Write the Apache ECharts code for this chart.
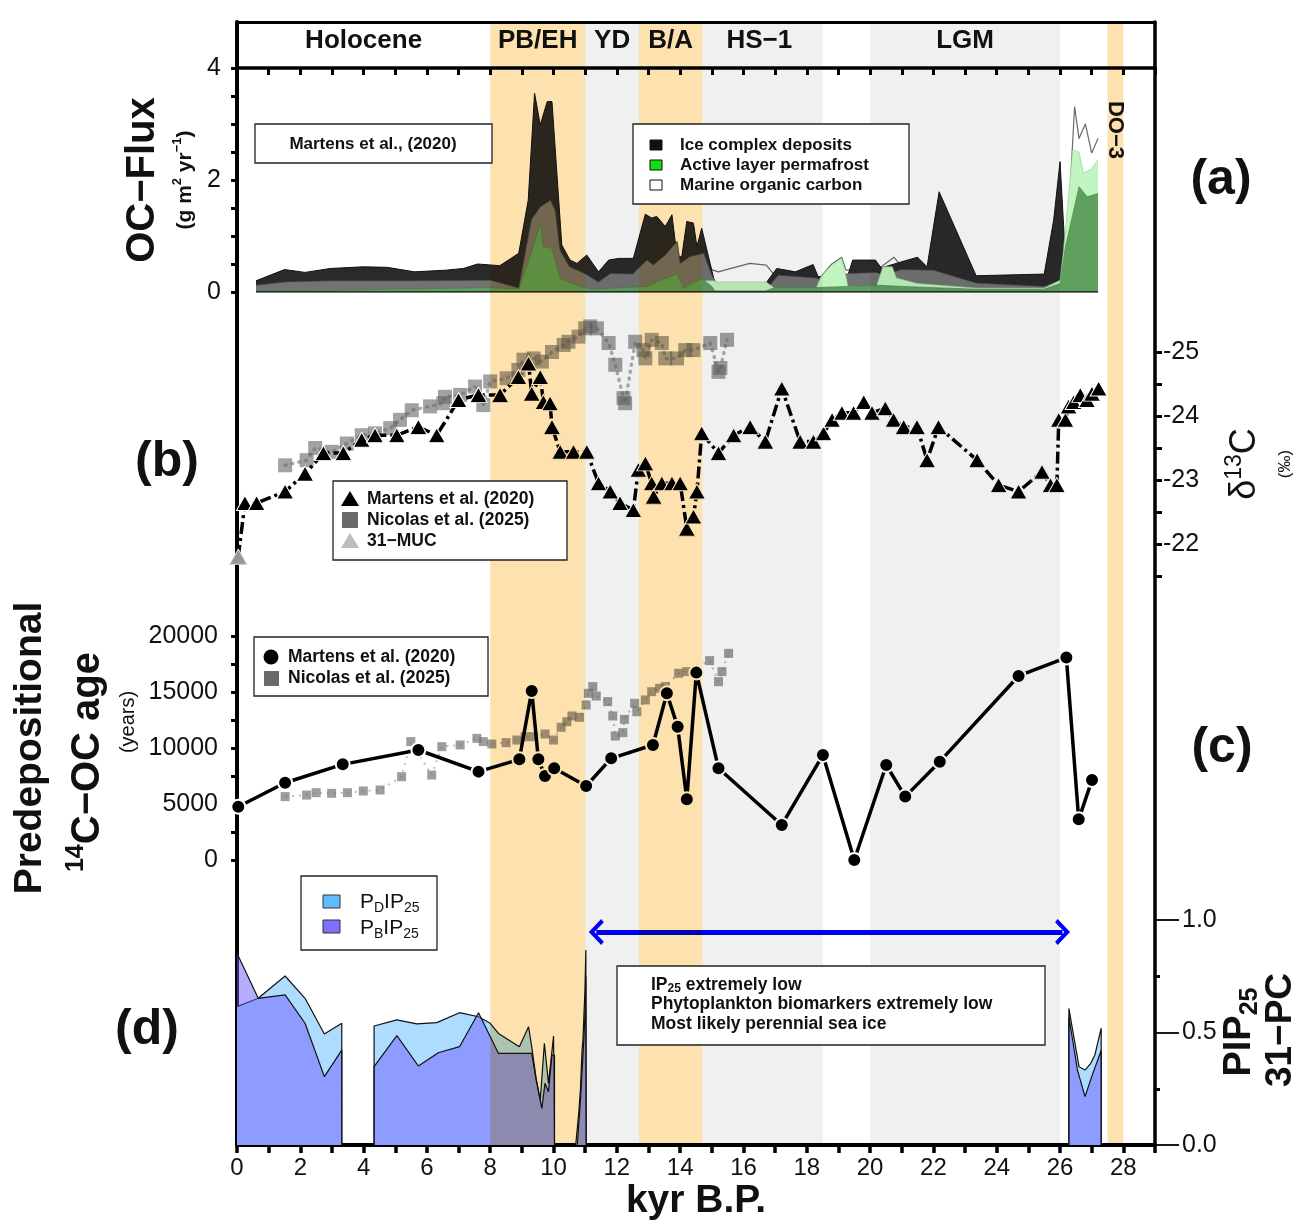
<!DOCTYPE html>
<html><head><meta charset="utf-8">
<script src="https://cdn.jsdelivr.net/npm/echarts@6/dist/echarts.min.js"></script>
<style>html,body{margin:0;padding:0;background:#fff}#c{width:1298px;height:1221px}</style>
</head><body><div id="c"></div>
<script>
// ---------- DATA ----------
const periods = [[8,11,'warm'],[11,12.7,'cold'],[12.7,14.7,'warm'],[14.7,18.5,'cold'],[20,26,'cold'],[27.5,28,'warm']];
const periodNames = ['Holocene','PB/EH','YD','B/A','HS−1','LGM'];
const periodCentres = [4.0,9.5,11.85,13.7,16.5,23.0];
const do3 = ['DO−3', 27.75];

// (a) OC flux, g m-2 yr-1
const icdFlux = [[0.6,0.2],[1.5,0.4],[2.15,0.35],[2.95,0.42],[4.0,0.45],[4.75,0.44],[5.6,0.36],[6.6,0.39],[7.15,0.42],[7.6,0.5],[8.3,0.47],[8.9,0.69],[9.2,1.64],[9.4,3.55],[9.58,2.98],[9.8,3.4],[9.95,3.4],[10.26,0.84],[10.52,0.57],[10.74,0.51],[11.05,0.66],[11.42,0.36],[11.74,0.57],[12.05,0.6],[12.52,0.6],[12.9,1.39],[13.1,1.32],[13.26,1.35],[13.53,1.17],[13.74,1.38],[13.9,0.63],[14.05,0.63],[14.21,1.26],[14.42,1.23],[14.53,0.81],[14.68,1.14],[14.95,0.5],[15.1,0.15],[16.7,0.15],[17.05,0.42],[17.64,0.36],[18.2,0.49],[18.36,0.27],[19.3,0.3],[19.45,0.57],[20.17,0.57],[20.35,0.43],[21.0,0.54],[21.5,0.62],[21.8,0.45],[22.18,1.79],[23.35,0.29],[25.5,0.32],[25.8,1.29],[26.0,2.33],[26.2,0.3],[27.2,0.1]];
const marineFlux = [[0.6,0.12],[1.5,0.18],[2.95,0.2],[5.5,0.2],[8.0,0.21],[8.9,0.07],[9.3,1.29],[9.58,1.52],[9.9,1.64],[10.05,1.46],[10.2,0.75],[10.5,0.45],[10.95,0.34],[11.42,0.18],[11.8,0.33],[12.5,0.32],[12.95,0.57],[13.15,0.48],[13.53,0.66],[13.9,0.9],[14.0,0.51],[14.3,0.63],[14.74,0.69],[15.0,0.4],[15.2,0.36],[16.2,0.51],[16.72,0.48],[17.03,0.27],[18.44,0.27],[18.79,0.5],[19.1,0.62],[19.24,0.39],[20.2,0.39],[20.76,0.62],[21.0,0.45],[22.0,0.39],[23.35,0.16],[25.5,0.1],[26.0,0.45],[26.27,1.34],[26.46,3.31],[26.6,2.74],[26.8,3.0],[27.0,2.48],[27.2,2.74]];
const mixedFlux = [[0.6,0.12],[1.5,0.18],[2.95,0.2],[5.5,0.2],[8.0,0.21],[8.9,0.07],[9.3,1.29],[9.58,1.52],[9.9,1.64],[10.05,1.46],[10.2,0.75],[10.5,0.45],[10.95,0.34],[11.42,0.18],[11.8,0.33],[12.5,0.32],[12.95,0.57],[13.15,0.48],[13.53,0.66],[13.9,0.9],[14.0,0.51],[14.3,0.63],[14.74,0.69],[15.0,0.3],[15.2,0.1],[16.8,0.1],[17.1,0.3],[18.3,0.25],[18.5,0.2],[19.3,0.33],[20.2,0.35],[20.4,0.3],[21.0,0.4],[22.0,0.39],[23.35,0.16],[25.5,0.1],[26.0,0.2],[26.2,0.05],[27.2,0.05]];
const alpLightFlux = [[14.7,0.2],[15.05,0.2],[15.2,0.18],[16.72,0.18],[16.97,0.07],[18.3,0.07],[18.44,0.27],[18.79,0.48],[19.1,0.6],[19.24,0.27],[19.3,0.1],[20.2,0.1],[20.4,0.45],[20.7,0.45],[20.83,0.25],[21.5,0.15],[23.35,0.07],[25.5,0.07],[26.0,0.21],[26.1,0.69],[26.4,2.54],[26.6,2.5],[26.74,2.12],[27.0,2.2],[27.2,2.36]];
const alpFlux = [[0.6,0.02],[3.0,0.03],[6.0,0.06],[8.0,0.08],[8.9,0.05],[9.31,0.72],[9.58,1.23],[9.68,0.81],[9.95,0.78],[10.21,0.24],[10.84,0.1],[11.2,0.05],[12.95,0.1],[13.9,0.33],[14.1,0.07],[14.68,0.24],[15.0,0.1],[15.1,0.02],[16.7,0.02],[17.0,0.08],[18.3,0.08],[19.3,0.1],[20.3,0.12],[21.0,0.1],[23.35,0.05],[25.5,0.05],[26.0,0.15],[26.17,0.81],[26.6,1.88],[26.86,1.7],[27.2,1.76]];

// (b) d13C permil
const d13cMUC = [[0.04,-21.8]];
const d13cMartens = [[0.25,-22.64],[0.62,-22.64],[1.52,-22.82],[2.15,-23.1],[2.73,-23.42],[3.36,-23.42],[3.94,-23.63],[4.36,-23.7],[5.05,-23.7],[5.73,-23.83],[6.31,-23.7],[7.0,-24.25],[7.63,-24.33],[8.31,-24.33],[8.89,-24.61],[9.21,-24.82],[9.31,-24.35],[9.58,-24.61],[9.68,-24.22],[9.89,-24.2],[9.95,-23.83],[10.21,-23.44],[10.63,-23.44],[11.05,-23.44],[11.42,-22.95],[11.79,-22.82],[12.1,-22.64],[12.52,-22.53],[12.68,-23.16],[12.9,-23.26],[13.1,-22.95],[13.16,-22.74],[13.42,-22.95],[13.74,-22.95],[14.0,-22.95],[14.21,-22.24],[14.42,-22.43],[14.53,-22.82],[14.68,-23.73],[15.21,-23.42],[15.69,-23.7],[16.21,-23.83],[16.69,-23.6],[17.21,-24.43],[17.79,-23.6],[18.21,-23.6],[18.53,-23.73],[18.8,-23.94],[19.11,-24.05],[19.48,-24.05],[19.8,-24.22],[20.06,-24.05],[20.48,-24.12],[20.74,-23.94],[21.06,-23.83],[21.48,-23.83],[21.8,-23.31],[22.16,-23.83],[23.38,-23.31],[24.06,-22.92],[24.69,-22.82],[25.43,-23.13],[25.7,-22.92],[25.9,-22.92],[25.96,-23.94],[26.17,-23.94],[26.27,-24.15],[26.43,-24.22],[26.64,-24.33],[26.85,-24.25],[27.01,-24.35],[27.22,-24.43]];
const d13cNicolas = [[1.52,-23.23],[2.2,-23.31],[2.47,-23.5],[2.99,-23.44],[3.47,-23.57],[3.94,-23.7],[4.36,-23.73],[4.84,-23.81],[5.15,-23.94],[5.52,-24.09],[6.1,-24.15],[6.52,-24.2],[6.57,-24.3],[7.05,-24.33],[7.52,-24.46],[7.78,-24.17],[8.0,-24.54],[8.52,-24.59],[8.89,-24.72],[9.05,-24.88],[9.37,-24.9],[9.63,-24.85],[9.95,-25.0],[10.32,-25.11],[10.47,-25.16],[10.79,-25.24],[11.0,-25.37],[11.16,-25.4],[11.37,-25.37],[11.74,-25.14],[11.95,-24.8],[12.21,-24.28],[12.26,-24.2],[12.58,-25.16],[12.84,-25.03],[12.9,-24.9],[13.1,-25.19],[13.42,-25.14],[13.53,-24.9],[13.9,-24.9],[14.16,-25.03],[14.42,-25.03],[14.95,-25.14],[15.21,-24.69],[15.27,-24.75],[15.48,-25.19]];

// (c) predepositional 14C-OC age, years
const ageMartens = [[0.04,4760],[1.52,6900],[3.34,8540],[5.73,9820],[7.63,7890],[8.92,8990],[9.31,15090],[9.52,8990],[9.73,7500],[10.02,8190],[11.03,6610],[11.82,9080],[13.14,10270],[13.58,14880],[13.92,11900],[14.21,5420],[14.51,16730],[15.21,8190],[17.21,3130],[18.51,9380],[19.5,0],[20.51,8480],[21.11,5660],[22.2,8780],[24.69,16430],[26.2,18070],[26.59,3630],[27.01,7140]];
const ageNicolas = [[1.52,5660],[2.2,5800],[2.5,6010],[2.99,5950],[3.49,6010],[3.99,6160],[4.52,6250],[5.2,7440],[5.49,10570],[6.15,7590],[6.47,10120],[7.05,10270],[7.58,10860],[7.78,10570],[8.05,10360],[8.5,10480],[8.84,10710],[9.1,11010],[9.37,11010],[9.73,11250],[10.0,10710],[10.24,11850],[10.42,12350],[10.58,12860],[10.82,12740],[11.03,13840],[11.1,14880],[11.24,15480],[11.35,14640],[11.71,14140],[11.87,12860],[11.95,11070],[12.19,11370],[12.24,12560],[12.56,13990],[12.63,13240],[12.9,14290],[13.1,15030],[13.35,15330],[13.53,15480],[13.95,16670],[14.21,16820],[14.93,17800],[15.21,15920],[15.32,16820],[15.53,18450]];

// (d) PIP25 31-PC (gaps marked with '-')
const pdIP25 = [[0,0.615],[0.67,0.652],[1.52,0.751],[2.15,0.652],[2.76,0.493],[3.31,0.541],[3.31,0],[3.8,'-'],[4.33,0],[4.33,0.529],[5.05,0.556],[5.68,0.538],[6.31,0.544],[7.03,0.588],[7.63,0.57],[8.0,0.541],[8.26,0.496],[8.92,0.437],[9.21,0.526],[9.31,0.437],[9.45,0.296],[9.58,0.2],[9.71,0.452],[9.84,0.274],[10.0,0.484],[10.03,0],[10.4,'-'],[10.7,0],[10.8,0.15],[10.85,0.25],[10.9,0.42],[10.93,0.47],[10.96,0.58],[10.99,0.68],[11.02,0.867],[11.03,0],[18,'-'],[26.28,0],[26.28,0.607],[26.6,0.348],[26.79,0.333],[26.97,0.363],[27.1,0.4],[27.3,0.519],[27.3,0]];
const pbIP25 = [[0,0.852],[0.67,0.652],[1.52,0.667],[2.15,0.541],[2.76,0.304],[3.31,0.422],[3.31,0],[3.8,'-'],[4.33,0],[4.33,0.348],[5.05,0.486],[5.73,0.351],[6.36,0.41],[7.03,0.437],[7.63,0.588],[8.26,0.407],[8.92,0.407],[9.31,0.407],[9.45,0.289],[9.63,0.163],[9.73,0.274],[9.84,0.237],[9.95,0.4],[10.03,0.4],[10.03,0],[10.4,'-'],[10.75,0],[10.85,0.2],[10.95,0.45],[11.0,0.6],[11.02,0.75],[11.03,0],[18,'-'],[26.28,0],[26.28,0.57],[26.55,0.333],[26.79,0.215],[27.0,0.304],[27.3,0.42],[27.3,0]];
const iceArrow = [[11.35,0.947],[26.08,0.947]];
const noteLines = ['{n|IP}{s|25}{n| extremely low}','Phytoplankton biomarkers extremely low','Most likely perennial sea ice'];

// ---------- CHART ----------
const FONT = 'Liberation Sans, Arial, sans-serif';
const chart = echarts.init(document.getElementById('c'));
const L = 237, R = 1298 - 1155;
const hidden = {show:false};
const noLine = {show:false, onZero:false};
function xA(grid, extra){return Object.assign({type:'value', gridIndex:grid, min:0, max:29, interval:1, splitLine:hidden}, extra);}
const G = (o) => Object.assign({left:L, right:R, containLabel:false, outerBoundsMode:'none'}, o);

const option = {
  animation:false,
  backgroundColor:'#ffffff',
  textStyle:{fontFamily:FONT},
  grid:[
    G({top:22, bottom:1221-1145}),
    G({top:68, height:224}),
    G({top:352, height:224}),
    G({top:636, height:224}),
    G({top:920, height:225})
  ],
  xAxis:[
    xA(0,{position:'top', axisLine:{onZero:false,lineStyle:{color:'#000',width:3}}, axisTick:hidden, axisLabel:hidden}),
    xA(1,{position:'top', axisLine:{onZero:false,lineStyle:{color:'#000',width:3.5}}, axisTick:{inside:true,length:7,lineStyle:{color:'#000',width:3}}, axisLabel:hidden}),
    xA(2,{show:false}),
    xA(3,{show:false}),
    xA(4,{position:'bottom', axisLine:{onZero:false,lineStyle:{color:'#000',width:4}}, axisTick:{length:8,lineStyle:{color:'#000',width:3.5}},
      axisLabel:{fontSize:24, color:'#111', margin:11, formatter:v=>(v%2===0&&v<=28)?String(v):''},
      name:'kyr B.P.', nameLocation:'middle', nameGap:37, nameTextStyle:{fontSize:39,fontWeight:'bold',color:'#111'}})
  ],
  yAxis:[
    {type:'value', gridIndex:0, position:'left', min:0, max:1, axisLine:{show:true,onZero:false,lineStyle:{color:'#000',width:4}}, axisTick:hidden, axisLabel:hidden, splitLine:hidden},
    {type:'value', gridIndex:0, position:'right', min:0, max:1, axisLine:{show:true,onZero:false,lineStyle:{color:'#000',width:3.5}}, axisTick:hidden, axisLabel:hidden, splitLine:hidden},
    {type:'value', gridIndex:1, position:'left', min:0, max:4, interval:0.5, axisLine:noLine, splitLine:hidden,
      axisTick:{show:true,length:6,lineStyle:{color:'#000',width:3}},
      axisLabel:{fontSize:25,color:'#111',margin:16,formatter:v=>v%2===0?String(v):''}},
    {type:'value', gridIndex:2, position:'right', inverse:true, min:-25, max:-21.5, interval:0.5, axisLine:noLine, splitLine:hidden,
      axisTick:{show:true,length:7,lineStyle:{color:'#000',width:3}},
      axisLabel:{fontSize:25,color:'#111',margin:8,formatter:v=>Number.isInteger(v)?String(v):''}},
    {type:'value', gridIndex:3, position:'left', min:0, max:20000, interval:2500, axisLine:noLine, splitLine:hidden,
      axisTick:{show:true,length:6,lineStyle:{color:'#000',width:3}},
      axisLabel:{fontSize:25,color:'#111',margin:19,formatter:v=>v%5000===0?String(v):''}},
    {type:'value', gridIndex:4, position:'right', min:0, max:1, interval:0.5, axisLine:noLine, splitLine:hidden,
      axisTick:{show:true,length:24,lineStyle:{color:'#000',width:1.8}},
      minorTick:{show:true,splitNumber:2,length:5,lineStyle:{color:'#000',width:3}},
      axisLabel:{fontSize:25,color:'#111',margin:27,formatter:v=>v.toFixed(1)}}
  ],
  series:[
    // (a)
    {name:'Marine organic carbon', type:'line', xAxisIndex:1, yAxisIndex:2, data:marineFlux, symbol:'none', z:3,
      lineStyle:{color:'#6a6a6a',width:1.2}, areaStyle:{color:'#ffffff',opacity:1}},
    {name:'Ice complex deposits', type:'line', xAxisIndex:1, yAxisIndex:2, data:icdFlux, symbol:'none', z:4,
      lineStyle:{color:'#111',width:1}, areaStyle:{color:'#2a2a2a',opacity:1}},
    {name:'mixed', type:'line', xAxisIndex:1, yAxisIndex:2, data:mixedFlux, symbol:'none', z:5,
      lineStyle:{color:'#444',width:0.6}, areaStyle:{color:'#737373',opacity:1}},
    {name:'alp-light', type:'line', xAxisIndex:1, yAxisIndex:2, data:alpLightFlux, symbol:'none', z:6,
      lineStyle:{color:'#8fcf8f',width:0.6}, areaStyle:{color:'#c2f4c2',opacity:1}},
    {name:'Active layer permafrost', type:'line', xAxisIndex:1, yAxisIndex:2, data:alpFlux, symbol:'none', z:7,
      lineStyle:{color:'#3e7e3e',width:0.6}, areaStyle:{color:'#5fa05f',opacity:1}},
    {name:'baseline', type:'line', xAxisIndex:1, yAxisIndex:2, symbol:'none', z:8,
      data:[[icdFlux[0][0],0],[icdFlux[icdFlux.length-1][0],0]], lineStyle:{color:'#111',width:1.5}},
    // (b)
    {name:'Nicolas δ13C', type:'line', xAxisIndex:2, yAxisIndex:3, data:d13cNicolas, clip:false, z:3,
      symbol:'rect', symbolSize:14, itemStyle:{color:'rgba(100,100,100,0.6)'},
      lineStyle:{color:'#b0b0b0',width:3.5,type:[1,6],cap:'round'}},
    {name:'Martens δ13C', type:'line', xAxisIndex:2, yAxisIndex:3, data:d13cMUC.concat(d13cMartens), clip:false, z:4,
      symbol:'triangle', symbolSize:[17,15], itemStyle:{color:'#000',borderColor:'#fff',borderWidth:1},
      lineStyle:{color:'#000',width:3.5,type:[12,4,3,4]}},
    {name:'31-MUC', type:'scatter', xAxisIndex:2, yAxisIndex:3, data:d13cMUC, clip:false, z:5,
      symbol:'triangle', symbolSize:[18,16], itemStyle:{color:'#bcbcbc'}},
    // (c)
    {name:'Nicolas age', type:'line', xAxisIndex:3, yAxisIndex:4, data:ageNicolas, clip:false, z:3,
      symbol:'rect', symbolSize:9, itemStyle:{color:'rgba(115,115,115,0.7)'},
      lineStyle:{color:'#bdbdbd',width:2,type:[2,5]}},
    {name:'Martens age', type:'line', xAxisIndex:3, yAxisIndex:4, data:ageMartens, clip:false, z:4,
      symbol:'circle', symbolSize:14, itemStyle:{color:'#000',borderColor:'#fff',borderWidth:2},
      lineStyle:{color:'#000',width:3.5}},
    // (d)
    {name:'PDIP25', type:'line', xAxisIndex:4, yAxisIndex:5, data:pdIP25, symbol:'none', connectNulls:false, z:3,
      lineStyle:{color:'#111',width:1.2}, areaStyle:{color:'#addcfe',opacity:1}},
    {name:'PBIP25', type:'line', xAxisIndex:4, yAxisIndex:5, data:pbIP25, symbol:'none', connectNulls:false, z:4,
      lineStyle:{color:'#111',width:1.2}, areaStyle:{color:'rgb(112,92,255)',opacity:0.5}},
    {name:'arrow', type:'line', xAxisIndex:4, yAxisIndex:5, data:[], z:60,
      markLine:{silent:true, symbol:['path://M0,12 L12,0 L24,12 L21,14.5 L12,5.5 L3,14.5 Z','path://M0,12 L12,0 L24,12 L21,14.5 L12,5.5 L3,14.5 Z'],
        symbolSize:[26,15], label:{show:false}, lineStyle:{color:'#0000ff',width:5,type:'solid'},
        data:[[{coord:iceArrow[0]},{coord:iceArrow[1]}]]}}
  ]
};
chart.setOption(option);

// ---------- climate-period bands, multiplied over the plot ----------
const px = v => chart.convertToPixel({xAxisIndex:0}, v);
const zr = chart.getZr();
const bandTop = chart.convertToPixel({yAxisIndex:0}, 1), bandBot = chart.convertToPixel({yAxisIndex:0}, 0);
periods.forEach(p=>{
  const x0 = px(p[0]), x1 = px(p[1]);
  zr.add(new echarts.graphic.Rect({silent:true, z:50, shape:{x:x0,y:bandTop,width:x1-x0,height:bandBot-bandTop},
    style:{fill:p[2]==='warm'?'#fde2b0':'#f0f0f0', blend:'multiply'}}));
});

// ---------- annotations ----------
const T = (text, x, y, font, extra) => Object.assign({type:'text', x, y, z:100, style:Object.assign({text, font, fill:'#111', align:'center', verticalAlign:'middle'}, (extra&&extra.style)||{})}, extra&&extra.rotation!==undefined?{rotation:extra.rotation}:{});
const box = (x,y,w,h) => ({type:'rect', z:90, shape:{x,y,width:w,height:h}, style:{fill:'#fff', stroke:'#222', lineWidth:1.3}});
const rich = (big, small, bold) => ({b:{font:(bold?'bold ':'')+big+'px '+FONT, fill:'#111', lineHeight:big+8, verticalAlign:'middle'},
  r:{font:big+'px '+FONT, fill:'#111', lineHeight:big+8, verticalAlign:'middle'},
  sup:{font:(bold?'bold ':'')+small+'px '+FONT, fill:'#111', lineHeight:big+8, verticalAlign:'top'},
  sub:{font:(bold?'bold ':'')+small+'px '+FONT, fill:'#111', lineHeight:big+8, verticalAlign:'bottom'}});
const g = [];
periodNames.forEach((n,i)=>g.push(T(n, px(periodCentres[i]), 41, 'bold 26px '+FONT)));
g.push(T(do3[0], px(do3[1]), 130, 'bold 22px '+FONT, {rotation:-Math.PI/2}));
g.push(T('(a)', 1221, 180, 'bold 50px '+FONT));
g.push(T('(b)', 167, 462, 'bold 50px '+FONT));
g.push(T('(c)', 1222, 748, 'bold 50px '+FONT));
g.push(T('(d)', 147, 1030, 'bold 50px '+FONT));
g.push(T('OC−Flux', 143, 180, 'bold 40px '+FONT, {rotation:Math.PI/2}));
g.push(T('{b|(g m}{sup|2}{b| yr}{sup|−1}{b|)}', 185, 180, 'bold 21px '+FONT, {rotation:Math.PI/2, style:{rich:rich(21,13,true)}}));
g.push(T('{r|δ}{sup|13}{b|C}', 1245, 464, 'bold 36px '+FONT, {rotation:Math.PI/2, style:{rich:rich(36,23,false)}}));
g.push(T('(‰)', 1285, 464, '17px '+FONT, {rotation:Math.PI/2}));
g.push(T('Predepositional', 30, 748, 'bold 39px '+FONT, {rotation:Math.PI/2}));
g.push(T('{sup|14}{b|C−OC age}', 88, 762, 'bold 40px '+FONT, {rotation:Math.PI/2, style:{rich:rich(40,25,true)}}));
g.push(T('(years)', 128, 722, '20px '+FONT, {rotation:Math.PI/2}));
g.push(T('{b|PIP}{sub|25}', 1240, 1032, 'bold 38px '+FONT, {rotation:Math.PI/2, style:{rich:rich(38,25,true)}}));
g.push(T('31−PC', 1281, 1030, 'bold 37px '+FONT, {rotation:Math.PI/2}));
g.push(box(255,124,237,39));
g.push(T('Martens et al., (2020)', 373, 144, 'bold 17px '+FONT));
g.push(box(633,124,276,80));
[['Ice complex deposits','#111'],['Active layer permafrost','#11dd11'],['Marine organic carbon','#fff']].forEach((e,i)=>{
  g.push({type:'rect', z:95, shape:{x:650,y:140+i*20,width:12,height:10}, style:{fill:e[1], stroke:'#111', lineWidth:1}});
  g.push(T(e[0], 680, 145+i*20, 'bold 17px '+FONT, {style:{align:'left'}}));
});
g.push(box(333,481,234,79));
g.push({type:'polygon', z:95, shape:{points:[[350,491],[359,506],[341,506]]}, style:{fill:'#000'}});
g.push({type:'rect', z:95, shape:{x:342,y:512,width:16,height:16}, style:{fill:'#6a6a6a'}});
g.push({type:'polygon', z:95, shape:{points:[[350,533],[359,548],[341,548]]}, style:{fill:'#bcbcbc'}});
g.push(T('Martens et al. (2020)', 367, 499, 'bold 17.5px '+FONT, {style:{align:'left'}}));
g.push(T('Nicolas et al. (2025)', 367, 520, 'bold 17.5px '+FONT, {style:{align:'left'}}));
g.push(T('31−MUC', 367, 541, 'bold 17.5px '+FONT, {style:{align:'left'}}));
g.push(box(254,637,234,59));
g.push({type:'circle', z:95, shape:{cx:271,cy:657,r:7.5}, style:{fill:'#000'}});
g.push({type:'rect', z:95, shape:{x:264,y:671,width:15,height:15}, style:{fill:'#6a6a6a'}});
g.push(T('Martens et al. (2020)', 288, 657, 'bold 17.5px '+FONT, {style:{align:'left'}}));
g.push(T('Nicolas et al. (2025)', 288, 678, 'bold 17.5px '+FONT, {style:{align:'left'}}));
g.push(box(301,876,136,74));
g.push({type:'rect', z:95, shape:{x:323,y:895,width:17,height:13}, style:{fill:'#5ebcff', stroke:'#333', lineWidth:1}});
g.push({type:'rect', z:95, shape:{x:323,y:920,width:17,height:13}, style:{fill:'#8070ff', stroke:'#333', lineWidth:1}});
const richPD = {n:{font:'21px '+FONT, fill:'#111', lineHeight:26, verticalAlign:'middle'}, s:{font:'14px '+FONT, fill:'#111', lineHeight:26, verticalAlign:'bottom'}};
g.push(T('{n|P}{s|D}{n|IP}{s|25}', 360, 902, '21px '+FONT, {style:{align:'left', rich:richPD}}));
g.push(T('{n|P}{s|B}{n|IP}{s|25}', 360, 928, '21px '+FONT, {style:{align:'left', rich:richPD}}));
g.push(box(617,966,428,79));
const richNote = {n:{font:'bold 17.5px '+FONT, fill:'#111', lineHeight:20, verticalAlign:'middle'}, s:{font:'bold 12px '+FONT, fill:'#111', lineHeight:20, verticalAlign:'bottom'}};
noteLines.forEach((t,i)=>g.push(T(t.indexOf('{')===0?t:'{n|'+t+'}', 651, 985+i*19.5, 'bold 17.5px '+FONT, {style:{align:'left', rich:richNote}})));
chart.setOption({graphic:g});
</script></body></html>
